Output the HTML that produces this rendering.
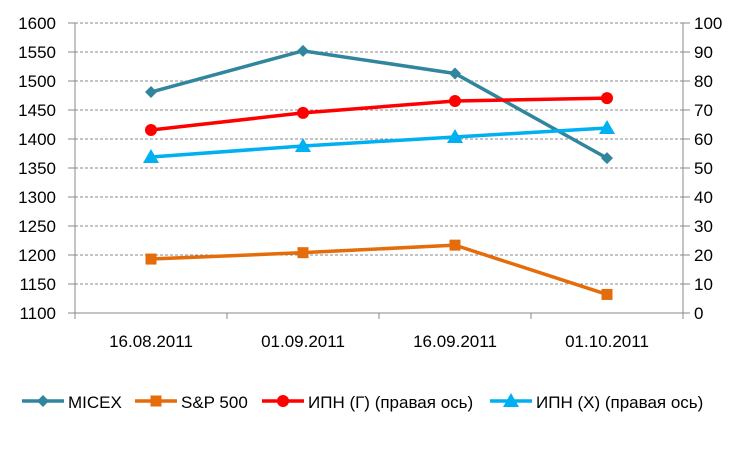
<!DOCTYPE html>
<html><head><meta charset="utf-8"><style>
html,body{margin:0;padding:0;background:#fff;}
svg{display:block;font-family:"Liberation Sans","DejaVu Sans",sans-serif;}
</style></head><body>
<svg id="chart" width="750" height="450"></svg>
<script>
const categories=["16.08.2011","01.09.2011","16.09.2011","01.10.2011"];
const micex=[1481,1552,1513,1367];
const sp500=[1193,1204,1217,1132];
const ipnG=[63.1,69.0,73.1,74.1];
const ipnX=[53.8,57.6,60.7,63.8];
const leftTicks=[1100,1150,1200,1250,1300,1350,1400,1450,1500,1550,1600];
const rightTicks=[0,10,20,30,40,50,60,70,80,90,100];

const NS="http://www.w3.org/2000/svg";
const svg=document.getElementById('chart');
const X0=75,X1=683,Y0=313,Y1=23;
const yL=v=>Y0-(v-1100)/500*(Y0-Y1);
const yR=v=>Y0-v/100*(Y0-Y1);
const xC=i=>X0+(i+0.5)*(X1-X0)/categories.length;
function el(t,a,p){const e=document.createElementNS(NS,t);for(const k in a)e.setAttribute(k,a[k]);(p||svg).appendChild(e);return e;}

leftTicks.forEach(v=>{
  const g=el('g',{});
  
  
  const y=yL(v);
  if(v>1100){el('line',{x1:X0,x2:X1,y1:y,y2:y,stroke:'#888','stroke-dasharray':'3,2','stroke-width':1},g);}
  el('line',{x1:X0-7,x2:X0,y1:y,y2:y,stroke:'#888'},g);
  const t=el('text',{x:56,y:y+6,'text-anchor':'end','font-size':17,fill:'#000'},g);t.textContent=v;
});
rightTicks.forEach(v=>{
  const g=el('g',{});
  
  
  const y=yR(v);
  el('line',{x1:X1,x2:X1+7,y1:y,y2:y,stroke:'#888'},g);
  const t=el('text',{x:694,y:y+6,'text-anchor':'start','font-size':17,fill:'#000'},g);t.textContent=v;
});
el('line',{x1:X0,x2:X0,y1:Y1,y2:Y0,stroke:'#888'});
el('line',{x1:X1,x2:X1,y1:Y1,y2:Y0,stroke:'#888'});
el('line',{x1:X0,x2:X1,y1:Y0,y2:Y0,stroke:'#888'});
for(let i=0;i<=categories.length;i++){const x=X0+i*(X1-X0)/categories.length;el('line',{x1:x,x2:x,y1:Y0,y2:Y0+6,stroke:'#888'});}
categories.forEach((c,i)=>{
  const t=el('text',{x:xC(i),y:347,'text-anchor':'middle','font-size':17,fill:'#000'});
  
  
  t.textContent=c;
});

function marker(type,x,y,color,g,s){
  if(type==='diamond')el('polygon',{points:`${x},${y-s} ${x+s},${y} ${x},${y+s} ${x-s},${y}`,fill:color},g);
  else if(type==='square')el('rect',{x:x-s,y:y-s,width:2*s,height:2*s,fill:color},g);
  else if(type==='circle')el('circle',{cx:x,cy:y,r:s,fill:color},g);
  else el('polygon',{points:`${x},${y-s-1} ${x+s+1},${y+s-1} ${x-s-1},${y+s-1}`,fill:color},g);
}
function series(name,vals,scale,color,type,s){
  const g=el('g',{});
  
  
  el('polyline',{points:vals.map((v,i)=>xC(i)+','+scale(v)).join(' '),fill:'none',stroke:color,'stroke-width':3.5,'stroke-linejoin':'round'},g);
  vals.forEach((v,i)=>marker(type,xC(i),scale(v),color,g,s));
}
series('micex',micex,yL,'#31859c','diamond',6);
series('sp500',sp500,yL,'#e46c0a','square',5.5);
series('ipn-g',ipnG,yR,'#ff0000','circle',6);
series('ipn-x',ipnX,yR,'#00b0f0','triangle',7);

const legend=[["MICEX","#31859c","diamond",22,6],["S&P 500","#e46c0a","square",135,5.5],["ИПН (Г) (правая ось)","#ff0000","circle",262,6],["ИПН (Х) (правая ось)","#00b0f0","triangle",490,7]];
legend.forEach(([n,c,t,x,s],i)=>{
  const g=el('g',{});
  
  
  el('line',{x1:x,x2:x+42,y1:401,y2:401,stroke:c,'stroke-width':3.5},g);
  marker(t,x+21,401,c,g,s);
  const tx=el('text',{x:x+46,y:408,'font-size':17,fill:'#000'},g);tx.textContent=n;
});
</script>
</body></html>
